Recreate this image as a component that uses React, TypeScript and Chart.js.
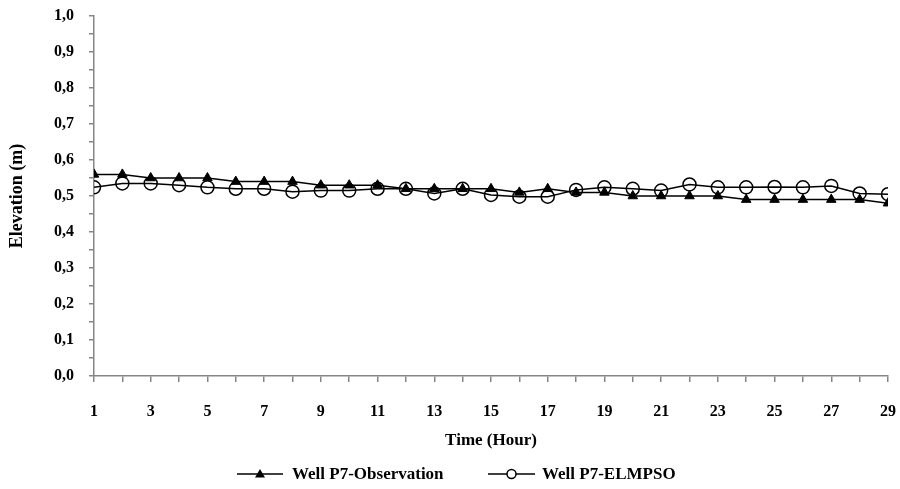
import React, { useEffect, useRef } from "react";
import { Chart, registerables } from "chart.js";

Chart.register(...registerables);

const hours = [1, 2, 3, 4, 5, 6, 7, 8, 9, 10, 11, 12, 13, 14, 15, 16, 17, 18, 19, 20, 21, 22, 23, 24, 25, 26, 27, 28, 29];
const observation = [0.56, 0.56, 0.55, 0.55, 0.55, 0.54, 0.54, 0.54, 0.53, 0.53, 0.53, 0.52, 0.52, 0.52, 0.52, 0.51, 0.52, 0.51, 0.51, 0.5, 0.5, 0.5, 0.5, 0.49, 0.49, 0.49, 0.49, 0.49, 0.48];
const elmpso = [0.524, 0.535, 0.535, 0.53, 0.524, 0.52, 0.52, 0.512, 0.515, 0.515, 0.52, 0.52, 0.507, 0.52, 0.503, 0.498, 0.498, 0.517, 0.524, 0.52, 0.515, 0.532, 0.524, 0.524, 0.525, 0.524, 0.528, 0.507, 0.505];
const seriesLabels = ["Well P7-Observation", "Well P7-ELMPSO"];
const xTitle = "Time (Hour)";
const yTitle = "Elevation (m)";

const FONT = "'Liberation Serif', 'Times New Roman', serif";
const AXIS_COLOR = "#868686";

const legendPlugin = {
  id: "customLegend",
  afterDraw(chart: any) {
    const ctx = chart.ctx;
    const y = 474;
    const items = [
      { lineStart: 237, lineEnd: 283, textX: 292, ds: chart.data.datasets[0], style: "triangle" },
      { lineStart: 488, lineEnd: 535, textX: 542, ds: chart.data.datasets[1], style: "circle" },
    ];
    ctx.save();
    items.forEach((it) => {
      ctx.strokeStyle = "#000";
      ctx.lineWidth = 1.5;
      ctx.beginPath();
      ctx.moveTo(it.lineStart, y);
      ctx.lineTo(it.lineEnd, y);
      ctx.stroke();
      const cx = (it.lineStart + it.lineEnd) / 2;
      if (it.style === "triangle") {
        ctx.fillStyle = "#000";
        ctx.beginPath();
        ctx.moveTo(cx, y - 5);
        ctx.lineTo(cx + 5, y + 3.5);
        ctx.lineTo(cx - 5, y + 3.5);
        ctx.closePath();
        ctx.fill();
      } else {
        ctx.fillStyle = "#fff";
        ctx.beginPath();
        ctx.arc(cx, y, 4.5, 0, Math.PI * 2);
        ctx.fill();
        ctx.lineWidth = 1.5;
        ctx.stroke();
      }
      ctx.fillStyle = "#000";
      ctx.font = `bold 17px ${FONT}`;
      ctx.textAlign = "left";
      ctx.textBaseline = "middle";
      ctx.fillText(it.ds.label, it.textX, y + 1);
    });
    ctx.restore();
  },
};

export default function App() {
  const canvasRef = useRef<HTMLCanvasElement | null>(null);

  useEffect(() => {
    if (!canvasRef.current) return;
    const chart = new Chart(canvasRef.current, {
      type: "line",
      data: {
        datasets: [
          {
            label: seriesLabels[0],
            data: hours.map((h, i) => ({ x: h, y: observation[i] })),
            borderColor: "#000",
            backgroundColor: "#000",
            borderWidth: 1.5,
            pointStyle: "triangle",
            pointRadius: 5.5,
            pointBorderWidth: 1,
            pointBackgroundColor: "#000",
            pointBorderColor: "#000",
            tension: 0,
          },
          {
            label: seriesLabels[1],
            data: hours.map((h, i) => ({ x: h, y: elmpso[i] })),
            borderColor: "#000",
            backgroundColor: "#fff",
            borderWidth: 1.5,
            pointStyle: "circle",
            pointRadius: 6.5,
            pointBorderWidth: 1.5,
            pointBackgroundColor: "rgba(255,255,255,0)",
            pointBorderColor: "#000",
            tension: 0,
          },
        ],
      },
      options: {
        responsive: false,
        animation: false,
        layout: { padding: { left: 3, right: 12, top: 16, bottom: 34 } },
        plugins: {
          legend: { display: false },
          tooltip: { enabled: false },
        },
        scales: {
          x: {
            type: "linear",
            min: 1,
            max: 29,
            afterFit: (scale: any) => {
              scale.height = 79;
              scale.paddingLeft = 0;
              scale.paddingRight = 0;
            },
            border: { color: AXIS_COLOR, width: 1.5 },
            grid: {
              drawOnChartArea: false,
              drawTicks: true,
              tickLength: 6,
              color: AXIS_COLOR,
              lineWidth: 1.5,
            },
            ticks: {
              stepSize: 1,
              autoSkip: false,
              maxRotation: 0,
              padding: 20,
              color: "#000",
              font: { family: FONT, size: 16, weight: "bold" },
              callback: (v: any) => (Number(v) % 2 === 1 ? String(v) : ""),
            },
            title: {
              display: true,
              text: xTitle,
              color: "#000",
              font: { family: FONT, size: 17, weight: "bold" },
              padding: { top: 4, bottom: 4 },
            },
          },
          y: {
            min: 0,
            max: 1,
            afterFit: (scale: any) => {
              scale.width = 91;
              scale.paddingTop = 0;
              scale.paddingBottom = 0;
            },
            border: { color: AXIS_COLOR, width: 1.5 },
            grid: {
              drawOnChartArea: false,
              drawTicks: true,
              tickLength: 5,
              color: AXIS_COLOR,
              lineWidth: 1.5,
            },
            ticks: {
              stepSize: 0.05,
              autoSkip: false,
              padding: 15,
              color: "#000",
              font: { family: FONT, size: 16, weight: "bold" },
              callback: (v: any) => {
                const n = Math.round(Number(v) * 100);
                return n % 10 === 0 ? (n / 100).toFixed(1).replace(".", ",") : "";
              },
            },
            title: {
              display: true,
              text: yTitle,
              color: "#000",
              font: { family: FONT, size: 18, weight: "bold" },
              padding: { top: 4, bottom: 4 },
            },
          },
        },
      },
      plugins: [legendPlugin],
    } as any);
    return () => chart.destroy();
  }, []);

  return (
    <div style={{ position: "fixed", left: 0, top: 0, width: 900, height: 489, background: "#fff" }}>
      <canvas ref={canvasRef} width={900} height={489} style={{ display: "block" }} />
    </div>
  );
}
